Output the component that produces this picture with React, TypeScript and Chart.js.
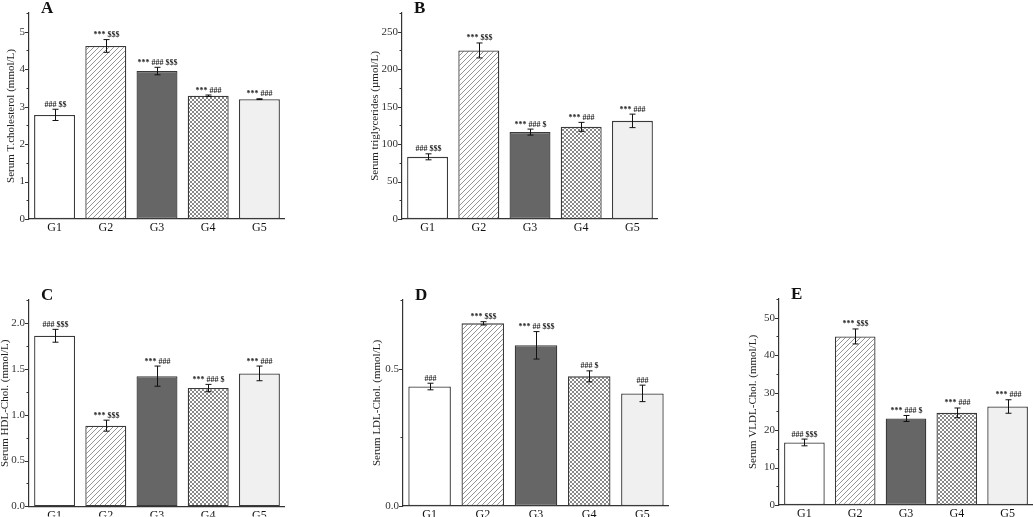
import React, { useEffect, useRef } from 'react';
import { Chart, registerables } from 'chart.js';

Chart.register(...registerables);

const groups = ['G1', 'G2', 'G3', 'G4', 'G5'];

const cholMean = [2.78, 4.62, 3.95, 3.29, 3.2];
const cholErr = [0.15, 0.17, 0.1, 0.02, 0.01];
const cholSig = ['### $$', '*** $$$', '*** ### $$$', '*** ###', '*** ###'];

const trigMean = [83, 225, 116, 123, 131];
const trigErr = [4, 10, 4, 6, 9];
const trigSig = ['### $$$', '*** $$$', '*** ### $', '*** ###', '*** ###'];

const hdlMean = [1.86, 0.88, 1.42, 1.29, 1.45];
const hdlErr = [0.07, 0.06, 0.11, 0.04, 0.08];
const hdlSig = ['### $$$', '*** $$$', '*** ###', '*** ### $', '*** ###'];

const ldlMean = [0.435, 0.665, 0.585, 0.472, 0.41];
const ldlErr = [0.012, 0.006, 0.05, 0.02, 0.03];
const ldlSig = ['###', '*** $$$', '*** ## $$$', '### $', '###'];

const vldlMean = [16.7, 45.0, 23.1, 24.6, 26.3];
const vldlErr = [0.9, 2.0, 0.8, 1.3, 1.8];
const vldlSig = ['### $$$', '*** $$$', '*** ### $', '*** ###', '*** ###'];

const SERIF = '"Liberation Serif", "Times New Roman", "DejaVu Serif", serif';

type PanelCfg = {
  letter: string;
  title: string;
  mean: number[];
  err: number[];
  sig: string[];
  max: number;
  minorStep: number;
  majorStep: number;
  decimals: number;
  left: number;
  top: number;
  w: number;
  h: number;
  yW: number;
  padTop: number;
  xH: number;
};

const panels: PanelCfg[] = [
  { letter: 'A', title: 'Serum T.cholesterol (mmol/L)', mean: cholMean, err: cholErr, sig: cholSig, max: 5.5, minorStep: 0.5, majorStep: 1, decimals: 0, left: 1, top: 0, w: 284, h: 250, yW: 28, padTop: 13, xH: 31 },
  { letter: 'B', title: 'Serum triglycerides (\u00b5mol/L)', mean: trigMean, err: trigErr, sig: trigSig, max: 275, minorStep: 25, majorStep: 50, decimals: 0, left: 365, top: 0, w: 293, h: 250, yW: 37, padTop: 13, xH: 31 },
  { letter: 'C', title: 'Serum HDL-Chol. (mmol/L)', mean: hdlMean, err: hdlErr, sig: hdlSig, max: 2.25, minorStep: 0.25, majorStep: 0.5, decimals: 1, left: -5, top: 270, w: 290, h: 247, yW: 34, padTop: 30, xH: 10 },
  { letter: 'D', title: 'Serum LDL-Chol. (mmol/L)', mean: ldlMean, err: ldlErr, sig: ldlSig, max: 0.75, minorStep: 0.25, majorStep: 0.5, decimals: 1, left: 367, top: 270, w: 302, h: 247, yW: 36, padTop: 30, xH: 11 },
  { letter: 'E', title: 'Serum VLDL-Chol. (mmol/L)', mean: vldlMean, err: vldlErr, sig: vldlSig, max: 55, minorStep: 5, majorStep: 10, decimals: 0, left: 743, top: 270, w: 290, h: 247, yW: 36, padTop: 29, xH: 12 },
];

function makeHatch(cross: boolean): CanvasPattern | string {
  const s = cross ? 4 : 5;
  const c = document.createElement('canvas');
  c.width = s;
  c.height = s;
  const g = c.getContext('2d');
  if (!g) return '#ffffff';
  g.fillStyle = '#ffffff';
  g.fillRect(0, 0, s, s);
  g.strokeStyle = cross ? '#6a6a6a' : '#7a7a7a';
  g.lineWidth = 0.8;
  g.beginPath();
  g.moveTo(0, s); g.lineTo(s, 0);
  g.moveTo(-1, 1); g.lineTo(1, -1);
  g.moveTo(s - 1, s + 1); g.lineTo(s + 1, s - 1);
  if (cross) {
    g.moveTo(0, 0); g.lineTo(s, s);
    g.moveTo(-1, s - 1); g.lineTo(1, s + 1);
    g.moveTo(s - 1, -1); g.lineTo(s + 1, 1);
  }
  g.stroke();
  const p = g.createPattern(c, 'repeat');
  return p || '#ffffff';
}

const decoPlugin = {
  id: 'deco',
  afterDatasetsDraw(chart: any, _args: any, opts: any) {
    const { ctx } = chart;
    const xs = chart.scales.x;
    const ys = chart.scales.y;
    const mean: number[] = opts.mean || [];
    const err: number[] = opts.err || [];
    const sig: string[] = opts.sig || [];
    ctx.save();
    ctx.strokeStyle = '#111';
    ctx.lineWidth = 1;
    mean.forEach((m, i) => {
      const px = Math.round(xs.getPixelForValue(i)) + 0.5;
      const top = ys.getPixelForValue(m + (err[i] || 0));
      const bot = ys.getPixelForValue(m - (err[i] || 0));
      ctx.beginPath();
      ctx.moveTo(px, top); ctx.lineTo(px, bot);
      ctx.moveTo(px - 3, top); ctx.lineTo(px + 3, top);
      ctx.moveTo(px - 3, bot); ctx.lineTo(px + 3, bot);
      ctx.stroke();
      ctx.fillStyle = '#222';
      ctx.font = 'bold 8px ' + SERIF;
      ctx.textAlign = 'center';
      ctx.textBaseline = 'alphabetic';
      ctx.fillText(sig[i] || '', px, top - 2.5);
    });
    ctx.restore();
  },
  afterDraw(chart: any, _args: any, opts: any) {
    const { ctx, chartArea } = chart;
    const ys = chart.scales.y;
    ctx.save();
    ctx.strokeStyle = '#333';
    ctx.lineWidth = 1;
    ys.ticks.forEach((t: any) => {
      const py = Math.round(ys.getPixelForValue(t.value)) + 0.5;
      const len = t.label === '' ? 2.5 : 4;
      ctx.beginPath();
      ctx.moveTo(chartArea.left - len, py);
      ctx.lineTo(chartArea.left, py);
      ctx.stroke();
    });
    if (opts.letter) {
      ctx.fillStyle = '#111';
      ctx.font = 'bold 17px ' + SERIF;
      ctx.textAlign = 'left';
      ctx.textBaseline = 'alphabetic';
      ctx.fillText(opts.letter, chartArea.left + 12, chartArea.top);
    }
    ctx.restore();
  },
};

function Panel({ cfg }: { cfg: PanelCfg }) {
  const ref = useRef<HTMLCanvasElement | null>(null);
  useEffect(() => {
    if (!ref.current) return;
    const fills = ['#ffffff', makeHatch(false), '#666666', makeHatch(true), '#f0f0f0'];
    const chart = new Chart(ref.current, {
      type: 'bar',
      data: {
        labels: groups,
        datasets: [
          {
            data: cfg.mean,
            backgroundColor: fills as any,
            borderColor: '#3a3a3a',
            borderWidth: 1.3,
            borderSkipped: false,
            barPercentage: 0.8,
            categoryPercentage: 1,
          },
        ],
      },
      plugins: [decoPlugin as any],
      options: {
        responsive: false,
        animation: false,
        events: [],
        layout: { padding: { left: 0, right: 0, top: cfg.padTop, bottom: 0 } },
        plugins: {
          legend: { display: false },
          tooltip: { enabled: false },
          deco: { mean: cfg.mean, err: cfg.err, sig: cfg.sig, letter: cfg.letter },
        } as any,
        scales: {
          x: {
            grid: { display: false, drawTicks: false },
            border: { display: true, color: '#333', width: 1.2 },
            ticks: { font: { family: SERIF, size: 12 }, color: '#111', padding: 2 },
            afterFit: (s: any) => { s.height = cfg.xH; },
          },
          y: {
            min: 0,
            max: cfg.max,
            grid: { display: false, drawTicks: false },
            border: { display: true, color: '#333', width: 1.2 },
            ticks: {
              stepSize: cfg.minorStep,
              padding: 4,
              font: { family: SERIF, size: 11 },
              color: '#333',
              callback: (v: any) => {
                const n = Number(v);
                const r = n / cfg.majorStep;
                if (Math.abs(r - Math.round(r)) > 1e-6) return '';
                return (Math.round(r) * cfg.majorStep).toFixed(cfg.decimals);
              },
            },
            title: {
              display: true,
              text: cfg.title,
              font: { family: SERIF, size: 11 },
              color: '#222',
              padding: { top: 4, bottom: 4 },
            },
            afterFit: (s: any) => { s.width = cfg.yW; },
          },
        },
      } as any,
    });
    return () => chart.destroy();
  }, []);
  return (
    <canvas
      ref={ref}
      width={cfg.w}
      height={cfg.h}
      style={{ position: 'absolute', left: cfg.left, top: cfg.top, width: cfg.w, height: cfg.h }}
    />
  );
}

export default function App() {
  return (
    <div
      style={{
        position: 'absolute',
        left: 0,
        top: 0,
        width: 1034,
        height: 517,
        overflow: 'hidden',
        background: '#ffffff',
      }}
    >
      {panels.map((p) => (
        <Panel key={p.letter} cfg={p} />
      ))}
    </div>
  );
}
